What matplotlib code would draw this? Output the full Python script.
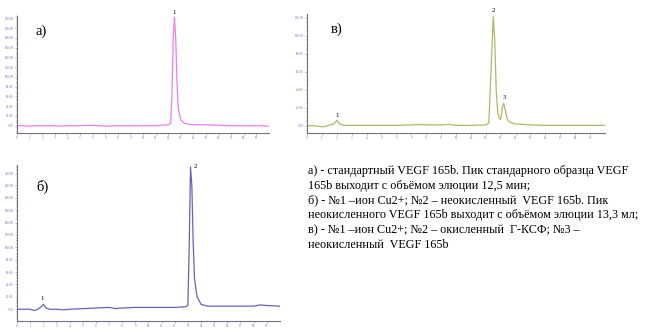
import matplotlib.pyplot as plt
import numpy as np
from matplotlib.ticker import MultipleLocator

# chromatogram a) - standard VEGF 165b
t_a = [0, 0.5, 1, 1.5, 2, 3, 3.5, 4, 5, 6, 6.5, 7, 8, 9, 10, 11, 11.5, 12.0, 12.2, 12.3,
       12.4, 12.5, 12.6, 12.7, 12.8, 13.0, 13.3, 13.6, 14, 15, 16, 17, 18, 19, 20]
v_a = [0, 0, -1, 0, 0, 0, -1, 0, 0, 1, 0, -1, 0, 0, 0, 0, 1, 2, 5, 60,
       180, 223, 180, 90, 35, 12, 5, 3, 2, 2, 1, 0, 0, 0, -1]

# chromatogram в)
t_v = [0, 0.5, 1, 1.2, 1.5, 1.8, 2.0, 2.2, 2.5, 3, 4, 5, 6, 7, 7.5, 8, 9, 9.5, 10, 11,
       12, 12.2, 12.35, 12.5, 12.6, 12.7, 12.8, 12.9, 13.0, 13.1, 13.2, 13.3, 13.45, 13.6,
       14, 15, 16, 17, 18, 19, 20]
v_v = [0, 0, -1, -1, 1, 2, 6, 2, 0.5, 0.5, 0.5, 0.5, 0.5, 1, 1.5, 1, 1, 1.5, 0.5, 0.5,
       1, 3, 60, 121, 95, 40, 15, 8, 7, 20, 25, 18, 7, 4,
       2, 1, 0.5, 0.5, 0.5, 0.5, 0.5]

# chromatogram б)
t_b = [0, 1, 1.3, 1.6, 1.9, 2.0, 2.2, 2.5, 3, 3.5, 4, 5, 6, 7, 7.5, 8, 9, 10, 11, 12,
       12.8, 13.0, 13.1, 13.2, 13.3, 13.4, 13.5, 13.7, 14, 14.5, 15, 16, 17, 18, 18.5, 19, 20]
v_b = [0, 0, -2, 0, 5, 8, 2, 0, 0, -1, 0, 1, 2, 3, 1, 2, 3, 3, 3, 3,
       4, 6, 100, 230, 200, 110, 50, 20, 8, 5, 5, 5, 5, 5, 7, 6, 5]

# peak labels: (time, height, text)
peaks_a = [(12.5, 228, "1")]
peaks_v = [(12.5, 125, "2"), (2.0, 9, "1"), (13.25, 29, "3")]
peaks_b = [(13.55, 226, "2"), (1.95, 14, "1")]

caption = ("а) - стандартный VEGF 165b. Пик стандарного образца VEGF\n"
           "165b выходит с объёмом элюции 12,5 мин;\n"
           "б) - №1 –ион Cu2+; №2 – неокисленный  VEGF 165b. Пик\n"
           "неокисленного VEGF 165b выходит с объёмом элюции 13,3 мл;\n"
           "в) - №1 –ион Cu2+; №2 – окисленный  Г-КСФ; №3 –\n"
           "неокисленный  VEGF 165b")

plt.rcParams['font.family'] = ['Liberation Serif', 'DejaVu Serif']

fig = plt.figure(figsize=(6.46, 3.29), dpi=100)


def chrom(rect, t, v, color, ylim, ystep, peaks, tag, tagpos):
    ax = fig.add_axes(rect)
    ax.plot(t, v, color=color, lw=0.9)
    ax.set_xlim(0, 20)
    ax.set_ylim(*ylim)
    ax.xaxis.set_minor_locator(MultipleLocator(0.25))
    ax.yaxis.set_minor_locator(MultipleLocator(ystep / 4))
    ax.set_xticks(np.arange(0, 20, 1))
    ax.set_xticklabels([str(i) for i in range(20)])
    yt = np.arange(0, ylim[1] - 2, ystep)
    ax.set_yticks(yt)
    ax.set_yticklabels([f"{int(y)}.00" for y in yt])
    for s in ("top", "right"):
        ax.spines[s].set_visible(False)
    for s in ("left", "bottom"):
        ax.spines[s].set_color("#707080")
        ax.spines[s].set_linewidth(0.8)
    ax.tick_params(which="major", length=1.6, width=0.4, pad=0.8, labelsize=2.3,
                   colors="#7070c0")
    ax.tick_params(which="minor", length=0.9, width=0.3, colors="#707080")
    ax.tick_params(axis="x", which="major", pad=0.6)
    for x, y, s in peaks:
        ax.text(x, y, s, fontsize=5, ha="center", va="bottom", clip_on=False)
    ax.text(tagpos[0], tagpos[1], tag, fontsize=10.5, transform=ax.transAxes,
            ha="left", va="center")
    return ax


chrom([0.0263, 0.5957, 0.390, 0.3556], t_a, v_a, "#f27cf0", (-15, 225), 20,
      peaks_a, "а)", (0.075, 0.87))
chrom([0.4752, 0.5957, 0.4613, 0.3617], t_v, v_v, "#b5b565", (-8, 124), 20,
      peaks_v, "в)", (0.08, 0.87))
chrom([0.0263, 0.0243, 0.407, 0.4742], t_b, v_b, "#6464c0", (-19, 233), 20,
      peaks_b, "б)", (0.075, 0.86))

fig.text(0.4768, 1 - 165 / 329, caption, fontsize=8.75, ha="left", va="top",
         linespacing=1.3)

fig.savefig("out.png", dpi=100)
